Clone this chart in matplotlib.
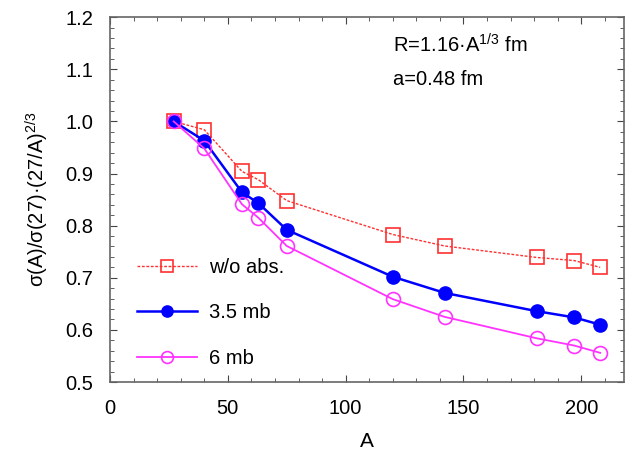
import matplotlib
matplotlib.use("Agg")
import matplotlib.pyplot as plt
from matplotlib.ticker import MultipleLocator

plt.rcParams['font.family'] = ['Liberation Sans', 'DejaVu Sans']
plt.rcParams['mathtext.fontset'] = 'custom'
plt.rcParams['mathtext.rm'] = 'Liberation Sans'
plt.rcParams['mathtext.it'] = 'Liberation Sans'

A = [27, 40, 56, 63, 75, 120, 142, 181, 197, 208]
wo_abs = [1.000, 0.984, 0.904, 0.888, 0.848, 0.783, 0.761, 0.739, 0.733, 0.720]
mb35 = [1.000, 0.963, 0.864, 0.843, 0.792, 0.702, 0.671, 0.636, 0.624, 0.610]
mb6 = [1.000, 0.948, 0.841, 0.815, 0.761, 0.659, 0.625, 0.584, 0.570, 0.556]

fig = plt.figure(figsize=(6.25, 4.5), dpi=100)
ax = fig.add_axes([0.176, 0.151, 0.822, 0.811])

ax.plot(A, wo_abs, color='#ff3030', lw=1.0, ls=(0, (2, 1.2)), marker='s', ms=10,
        mfc='none', mec='#ff3030', mew=1.2, label='w/o abs.')
ax.plot(A, mb35, color='#0000ff', lw=1.8, marker='o', ms=9.5,
        mfc='#0000ff', mec='#0000ff', label='3.5 mb')
ax.plot(A, mb6, color='#ff33ff', lw=1.3, marker='o', ms=10,
        mfc='none', mec='#ff33ff', mew=1.2, label='6 mb')

ax.set_xlim(0, 218)
ax.set_ylim(0.5, 1.2)
ax.xaxis.set_major_locator(MultipleLocator(50))
ax.xaxis.set_minor_locator(MultipleLocator(10))
ax.yaxis.set_major_locator(MultipleLocator(0.1))
ax.yaxis.set_minor_locator(MultipleLocator(0.02))
ax.yaxis.set_major_formatter(matplotlib.ticker.FormatStrFormatter('%.1f'))
ax.tick_params(which='both', direction='in', top=True, right=True, color='#444444')
ax.tick_params(which='major', length=5, labelsize=14.5)
ax.tick_params(axis='y', which='major', pad=12)
ax.tick_params(axis='x', which='major', pad=12)
ax.tick_params(which='minor', length=3)
for s in ax.spines.values():
    s.set_color('#666666')
    s.set_linewidth(1.2)

ax.set_xlabel('A', fontsize=15, labelpad=10)
ax.set_ylabel(r'σ(A)/σ(27)·(27/A)$^{2/3}$', fontsize=14.5, labelpad=10)

ax.text(0.55, 0.925, r'R=1.16·A$^{1/3}$ fm', transform=ax.transAxes, fontsize=14.5,
        va='center', ha='left')
ax.text(0.55, 0.83, 'a=0.48 fm', transform=ax.transAxes, fontsize=14.5,
        va='center', ha='left')

leg = ax.legend(loc='lower left', bbox_to_anchor=(0.025, 0.0), frameon=False, fontsize=14.5,
                handlelength=3.0, handletextpad=0.6, labelspacing=1.32, borderaxespad=0.3,
                markerscale=0.85)

fig.savefig('out.png', dpi=100)
